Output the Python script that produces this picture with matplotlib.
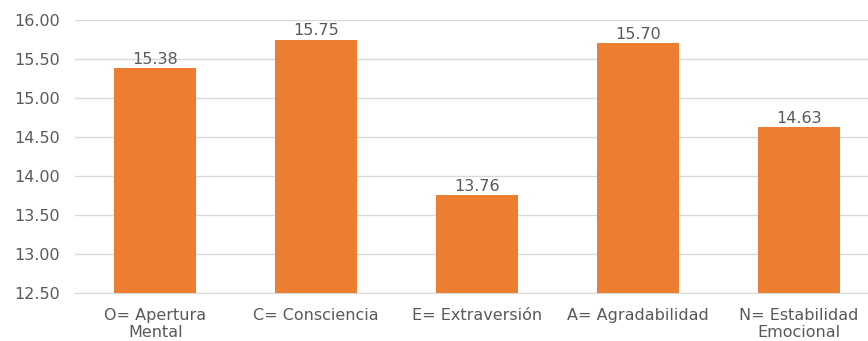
import matplotlib.pyplot as plt

plt.rcParams['font.family'] = ['DejaVu Sans']

categories = ['O= Apertura\nMental', 'C= Consciencia', 'E= Extraversión',
              'A= Agradabilidad', 'N= Estabilidad\nEmocional']
values = [15.38, 15.75, 13.76, 15.70, 14.63]
yticks = [12.50, 13.00, 13.50, 14.00, 14.50, 15.00, 15.50, 16.00]

bar_color = '#ED7D31'
text_color = '#595959'

fig = plt.figure(figsize=(8.68, 3.41), dpi=100)
# plot area runs a little past the right edge, like the cropped original
ax = fig.add_axes([75 / 868, 48 / 341, 804 / 868, 273 / 341])

x = range(len(categories))
bars = ax.bar(x, values, width=0.51, color=bar_color, zorder=3)

for xi, v in zip(x, values):
    ax.text(xi, v + 0.015, f'{v:.2f}', ha='center', va='bottom',
            fontsize=11.5, color=text_color)

ax.set_ylim(12.5, 16.0)
ax.set_xlim(-0.5, len(categories) - 0.5)
ax.set_yticks(yticks)
ax.set_yticklabels([f'{t:.2f}' for t in yticks])
ax.set_xticks(list(x))
ax.set_xticklabels(categories, linespacing=1.15)

ax.grid(axis='y', color='#D9D9D9', linewidth=1, zorder=0)
for s in ['top', 'right', 'left']:
    ax.spines[s].set_visible(False)
ax.spines['bottom'].set_color('#D9D9D9')
ax.tick_params(axis='both', length=0, labelsize=11.5, colors=text_color)
ax.tick_params(axis='y', pad=11)
ax.tick_params(axis='x', pad=11)

fig.savefig('out.png', dpi=100)
